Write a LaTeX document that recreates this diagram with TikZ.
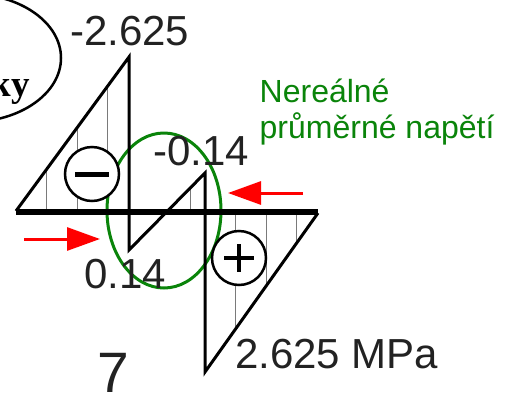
\documentclass[tikz,border=0pt]{standalone}
\usepackage{fontspec}
\setmainfont{Liberation Sans}
\newfontfamily\serifbold{Liberation Serif}
\usepackage{xcolor}
\usepackage{tikz}
\usetikzlibrary{arrows.meta, calc}
\definecolor{inkgray}{HTML}{222222}
\definecolor{hatchgray}{HTML}{7A7A7A}
\definecolor{leafgreen}{HTML}{0A840A}
\definecolor{pushred}{HTML}{FF0000}

\begin{document}
\begin{tikzpicture}[x=1pt, y=-1pt,
    value/.style={text=inkgray, inner sep=0pt, anchor=base west, font=\fontsize{42}{48}\selectfont},
    sign/.style={draw, circle, fill=white, line width=2.5pt, minimum size=54pt, inner sep=0pt},
    hatch/.style={hatchgray, line width=1pt},
    push/.style={pushred, line width=3pt, -{Triangle[length=33pt, width=23pt]}}]
    \clip (0,0) rectangle (509,397);
    % label ellipse, cut at the left edge
    \draw[line width=2.5pt] (-30,58) ellipse [x radius=91, y radius=64];
    \node[anchor=base east, inner sep=0pt, font=\serifbold\bfseries\fontsize{37}{42}\selectfont] (kylabel) at (30,96) {ky};

    \coordinate (a) at (16,211);
    \coordinate (b) at (129,57);
    \coordinate (c) at (129,250);
    \coordinate (d) at (205,173);
    \coordinate (e) at (205,372);
    \coordinate (f) at (318,213);
    \coordinate (axl) at (16,212);
    \coordinate (axr) at (318,212);

    \foreach \hx/\hy in {46/170, 77/128, 107/87, 190/188, 235/330, 266/286, 296/244}
      \draw[hatch] (\hx,212) -- (\hx,\hy);

    \draw[leafgreen, line width=3pt] (164,210.5) ellipse [x radius=57, y radius=77.5];

    \draw[line width=3pt, line join=miter] (a) -- (b) -- (c) -- (d) -- (e) -- (f);
    \draw[line width=6pt] (axl) -- (axr);

    \node[sign] (minus) at (92,174) {};
    \draw[line width=5pt] ($(minus.center)+(-17,0)$) -- ($(minus.center)+(17,0)$);
    \node[sign] (plus) at (239,258) {};
    \draw[line width=4pt] ($(plus.center)+(-15,0)$) -- ($(plus.center)+(15,0)$);
    \draw[line width=4pt] ($(plus.center)+(0,-14)$) -- ($(plus.center)+(0,14)$);

    \node[value] (top) at (70,45) {-2.625};
    \node[value] (upper) at (153,165) {-0.14};
    \node[value] (lower) at (84,288) {0.14};
    \node[value] (bottom) at (235,368) {2.625 MPa};
    \node[value, font=\fontsize{57}{64}\selectfont] (number) at (97,392) {7};
    \node[text=leafgreen, inner sep=0pt, anchor=base west, align=left,
          font=\fontsize{32}{36}\selectfont] (note) at (259.5,138) {Nereálné\\průměrné napětí};

    \coordinate (pushl) at (24,239);
    \coordinate (pushltip) at (100,239);
    \coordinate (pushr) at (303,193);
    \coordinate (pushrtip) at (228,193);
    \draw[push] (pushl) -- (pushltip);
    \draw[push] (pushr) -- (pushrtip);
\end{tikzpicture}
\end{document}
